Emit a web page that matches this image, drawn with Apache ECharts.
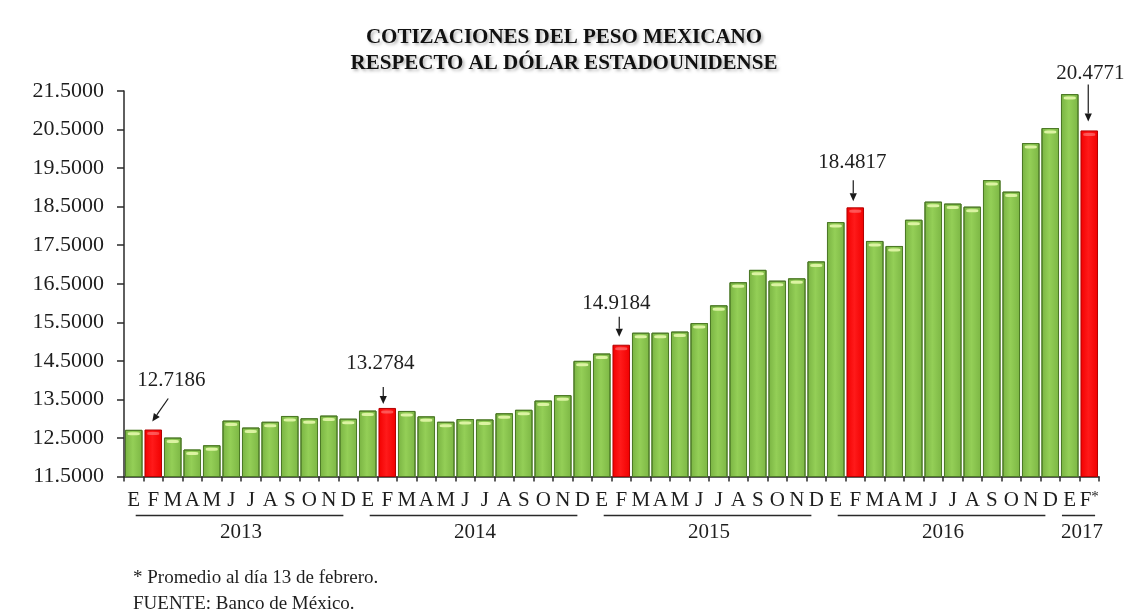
<!DOCTYPE html>
<html>
<head>
<meta charset="utf-8">
<script src="https://cdn.jsdelivr.net/npm/echarts@6/dist/echarts.min.js"></script>
<style>
  html, body { margin: 0; padding: 0; background: #ffffff; }
  #chart { width: 1128px; height: 615px; }
</style>
</head>
<body>
<div id="chart"></div>
<script>
// Month initials (Spanish) and the years they belong to
const monthLetters = ['E', 'F', 'M', 'A', 'M', 'J', 'J', 'A', 'S', 'O', 'N', 'D'];
const years = ['2013', '2014', '2015', '2016', '2017'];
const monthsPerYear = [12, 12, 12, 12, 2];

// Monthly average exchange rate, pesos per US dollar
const rates2013 = [12.71, 12.7186, 12.51, 12.20, 12.31, 12.95, 12.77, 12.92, 13.07, 13.01, 13.08, 13.00];
const rates2014 = [13.21, 13.2784, 13.20, 13.06, 12.92, 12.99, 12.98, 13.14, 13.23, 13.47, 13.61, 14.50];
const rates2015 = [14.69, 14.9184, 15.23, 15.23, 15.26, 15.48, 15.94, 16.54, 16.86, 16.58, 16.64, 17.08];
const rates2016 = [18.10, 18.4817, 17.61, 17.48, 18.16, 18.63, 18.58, 18.50, 19.19, 18.89, 20.15, 20.54];
const rates2017 = [21.42, 20.4771];

// Value-axis tick labels
const yTicks = [11.5, 12.5, 13.5, 14.5, 15.5, 16.5, 17.5, 18.5, 19.5, 20.5, 21.5];

// February of each year is highlighted and labelled
const highlightMonth = 1;

const SERIF = '"Liberation Serif", "Times New Roman", serif';
const TEXT = '#1e1e1e';

const yearlyRates = [rates2013, rates2014, rates2015, rates2016, rates2017];
const categories = [];
const rates = [];
const yearSpans = [];
yearlyRates.forEach(function (arr, y) {
  const start = categories.length;
  for (let m = 0; m < monthsPerYear[y]; m++) {
    categories.push(monthLetters[m] + ' ' + years[y]);
    rates.push(arr[m]);
  }
  yearSpans.push({ year: years[y], first: start, last: categories.length - 1, partial: monthsPerYear[y] < 12 });
});
const isHighlight = categories.map(function (c) { return c.charAt(0) === monthLetters[highlightMonth]; });
const highlightIdx = [];
isHighlight.forEach(function (h, i) { if (h) highlightIdx.push(i); });

// Callout placement for each highlighted bar (pixels from the bar's top centre)
const calloutStyle = [
  { dx: 18, dy: -38, from: [15, -31], to: [-1, -8] },
  { dx: -7, dy: -33, from: [-4, -21], to: [-4, -4] },
  { dx: -5, dy: -30, from: [-2, -28], to: [-2, -8] },
  { dx: -3, dy: -34, from: [-2, -27], to: [-2, -6] },
  { dx: 1,  dy: -46, from: [-1, -46], to: [-1, -9] }
];

const greenFill = new echarts.graphic.LinearGradient(0, 0, 1, 0, [
  { offset: 0, color: '#79b342' },
  { offset: 0.45, color: '#94cf57' },
  { offset: 1, color: '#7cb644' }
]);
const redFill = new echarts.graphic.LinearGradient(0, 0, 1, 0, [
  { offset: 0, color: '#f20000' },
  { offset: 0.45, color: '#ff1a1a' },
  { offset: 1, color: '#f00000' }
]);

const barData = rates.map(function (v, i) {
  if (!isHighlight[i]) return v;
  const k = highlightIdx.indexOf(i);
  const c = calloutStyle[k];
  return {
    value: v,
    itemStyle: { color: redFill, borderColor: '#b30000' },
    label: {
      show: true,
      position: 'top',
      distance: 0,
      offset: [c.dx, c.dy],
      formatter: function (p) { return p.value.toFixed(4); },
      fontFamily: SERIF,
      fontSize: 21,
      lineHeight: 22,
      color: TEXT
    }
  };
});

const glossData = rates.map(function (v, i) {
  return {
    value: v,
    itemStyle: { color: isHighlight[i] ? 'rgba(255,140,140,0.55)' : '#dcf3a2' }
  };
});

const chart = echarts.init(document.getElementById('chart'), null, { renderer: 'canvas' });

const option = {
  backgroundColor: '#ffffff',
  animation: false,
  title: {
    text: 'COTIZACIONES DEL PESO MEXICANO\nRESPECTO AL DÓLAR ESTADOUNIDENSE',
    left: 'center',
    top: 20,
    textStyle: {
      fontFamily: SERIF,
      fontWeight: 'bold',
      fontSize: 21,
      lineHeight: 26,
      color: '#111111',
      textShadowColor: 'rgba(0,0,0,0.28)',
      textShadowBlur: 3,
      textShadowOffsetX: 2,
      textShadowOffsetY: 2
    }
  },
  grid: { left: 124, right: 29, top: 91, bottom: 138.5, containLabel: false },
  xAxis: {
    type: 'category',
    data: categories,
    boundaryGap: true,
    axisLine: { show: true, lineStyle: { color: '#2a2a2a', width: 1.5 } },
    axisTick: { show: true, length: 5, lineStyle: { color: '#2a2a2a', width: 1.5 } },
    axisLabel: {
      interval: 0,
      margin: 13,
      fontFamily: SERIF,
      fontSize: 21,
      color: TEXT,
      formatter: function (v, i) {
        const letter = v.charAt(0);
        return i === categories.length - 1 ? letter + '{sup|*}' : letter;
      },
      rich: {
        sup: { fontFamily: SERIF, fontSize: 15, color: TEXT, verticalAlign: 'top', lineHeight: 12 }
      }
    },
    splitLine: { show: false }
  },
  yAxis: {
    type: 'value',
    min: 11.5,
    max: 21.5,
    axisLine: { show: true, lineStyle: { color: '#2a2a2a', width: 1.5 } },
    axisTick: { show: true, length: 7, customValues: yTicks, lineStyle: { color: '#2a2a2a', width: 1.5 } },
    axisLabel: {
      customValues: yTicks,
      margin: 20,
      fontFamily: SERIF,
      fontSize: 22,
      color: TEXT,
      formatter: function (v) { return v.toFixed(4); }
    },
    splitLine: { show: false }
  },
  series: [
    {
      name: 'Cotización',
      type: 'bar',
      data: barData,
      barCategoryGap: '10%',
      itemStyle: { color: greenFill, borderColor: '#4d7a27', borderWidth: 1 },
      z: 2
    },
    {
      name: 'Brillo',
      type: 'pictorialBar',
      data: glossData,
      symbol: 'roundRect',
      symbolSize: [12, 3],
      symbolPosition: 'end',
      symbolOffset: [0, 2.5],
      silent: true,
      z: 3
    }
  ]
};

chart.setOption(option);

// Year underlines, year labels, footnotes and callout arrows placed from the axis scales
function px(i, v) { return chart.convertToPixel({ gridIndex: 0 }, [i, v]); }

const elements = [];
const catW = px(1, 12)[0] - px(0, 12)[0];
const axisY = px(0, 11.5)[1];

yearSpans.forEach(function (s) {
  const firstX = px(s.first, 12)[0];
  const lastX = px(s.last, 12)[0];
  const x1 = firstX + (s.partial ? -0.4 : 0.1) * catW;
  const x2 = lastX + (s.partial ? 0.3 : -0.25) * catW;
  elements.push({
    type: 'line',
    shape: { x1: x1, y1: axisY + 39, x2: x2, y2: axisY + 39 },
    style: { stroke: '#2a2a2a', lineWidth: 1.5 },
    silent: true
  });
  const cx = (firstX + lastX) / 2 + (s.partial ? 0.13 * catW : 0);
  elements.push({
    type: 'text',
    x: cx,
    y: axisY + 56,
    style: {
      text: s.year,
      fontFamily: SERIF,
      fontSize: 21,
      fill: TEXT,
      align: 'center',
      verticalAlign: 'middle'
    },
    silent: true
  });
});

highlightIdx.forEach(function (i, k) {
  const c = calloutStyle[k];
  const top = px(i, rates[i]);
  const x1 = top[0] + c.from[0], y1 = top[1] + c.from[1];
  const x2 = top[0] + c.to[0], y2 = top[1] + c.to[1];
  const ang = Math.atan2(y2 - y1, x2 - x1);
  const headLen = 8, headHalf = 3.6;
  const bx = x2 - headLen * Math.cos(ang), by = y2 - headLen * Math.sin(ang);
  const nx = -Math.sin(ang), ny = Math.cos(ang);
  elements.push({
    type: 'line',
    shape: { x1: x1, y1: y1, x2: bx, y2: by },
    style: { stroke: '#1a1a1a', lineWidth: 1.2 },
    silent: true,
    z: 10
  });
  elements.push({
    type: 'polygon',
    shape: { points: [[x2, y2], [bx + nx * headHalf, by + ny * headHalf], [bx - nx * headHalf, by - ny * headHalf]] },
    style: { fill: '#1a1a1a' },
    silent: true,
    z: 10
  });
});

elements.push({
  type: 'text',
  left: 133,
  top: 569,
  style: { text: '* Promedio al día 13 de febrero.', fontFamily: SERIF, fontSize: 19, fill: TEXT },
  silent: true
});
elements.push({
  type: 'text',
  left: 133,
  top: 595,
  style: { text: 'FUENTE: Banco de México.', fontFamily: SERIF, fontSize: 19, fill: TEXT },
  silent: true
});

chart.setOption({ graphic: { elements: elements } });
</script>
</body>
</html>
